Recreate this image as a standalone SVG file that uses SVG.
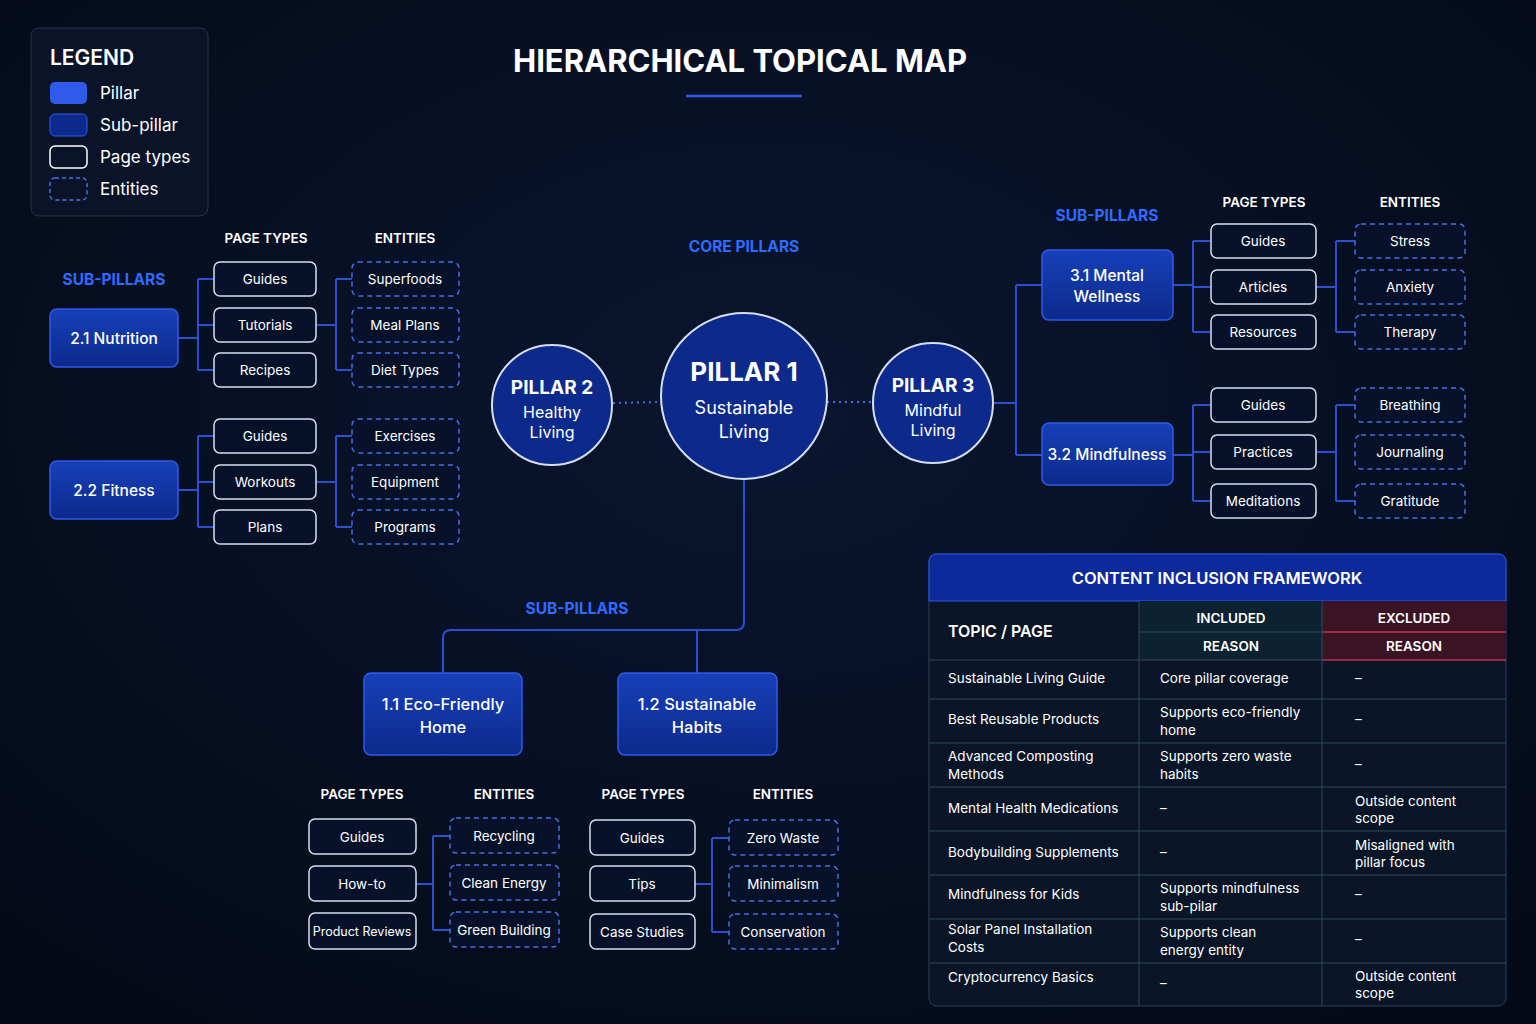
<svg xmlns="http://www.w3.org/2000/svg" width="1536" height="1024" viewBox="0 0 1536 1024">
<defs>
<radialGradient id="bg" cx="50%" cy="40%" r="70%"><stop offset="0" stop-color="#0a1630"/><stop offset="1" stop-color="#040a18"/></radialGradient>
<linearGradient id="sp" x1="0" y1="0" x2="0" y2="1"><stop offset="0" stop-color="#1740b8"/><stop offset="1" stop-color="#0c2a8c"/></linearGradient>
</defs>
<style>
text{font-family:Inter,"Noto Sans","Liberation Sans",sans-serif;fill:#fff}
.c{text-anchor:middle}
.h{font-size:13.5px;font-weight:600}
.sub{font-size:15.5px;font-weight:700;fill:#2f6bff}
.sp{fill:url(#sp);stroke:#2f5bea;stroke-width:1.5}
.pt{fill:#07122a;stroke:#d8def0;stroke-width:1.5}
.en{fill:#07122a;stroke:#4a6ee8;stroke-width:1.5;stroke-dasharray:5 4}
.t{font-size:13.5px}
.st{font-size:15.5px;font-weight:500}
.ln{fill:none;stroke:#2a4fd0;stroke-width:2}
.pc{fill:#0c2a8c;stroke:#d8def0;stroke-width:2}
.tb{font-size:13.5px}
.gl{stroke:#2c4a5c;stroke-width:1}
</style>
<rect width="1536" height="1024" fill="url(#bg)"/>
<g id="legend">
<rect x="31" y="28" width="177" height="188" rx="8" fill="#0a1328" stroke="#26324a"/>
<text x="50" y="65" font-size="21" font-weight="600">LEGEND</text>
<rect x="50" y="82" width="37" height="22" rx="5" fill="#2f5bea"/><text x="100" y="99" font-size="17">Pillar</text>
<rect x="50" y="114" width="37" height="22" rx="5" fill="#0c2a8c" stroke="#2f5bea"/><text x="100" y="131" font-size="17">Sub-pillar</text>
<rect x="50" y="146" width="37" height="22" rx="5" fill="none" stroke="#fff" stroke-width="1.5"/><text x="100" y="163" font-size="17">Page types</text>
<rect x="50" y="178" width="37" height="22" rx="5" fill="none" stroke="#4a6ee8" stroke-dasharray="4 3" stroke-width="1.5"/><text x="100" y="195" font-size="17">Entities</text>
</g>
<g id="title">
<text x="740" y="72" class="c" font-size="31" font-weight="700">HIERARCHICAL TOPICAL MAP</text>
<line x1="686" y1="96" x2="802" y2="96" stroke="#2f5bea" stroke-width="2.5"/>
<text x="744" y="252" class="c sub">CORE PILLARS</text>
<text x="114" y="285" class="c sub">SUB-PILLARS</text>
<text x="1107" y="221" class="c sub">SUB-PILLARS</text>
<text x="577" y="614" class="c sub">SUB-PILLARS</text>
<text x="266" y="243" class="c h">PAGE TYPES</text><text x="405" y="243" class="c h">ENTITIES</text>
<text x="1264" y="207" class="c h">PAGE TYPES</text><text x="1410" y="207" class="c h">ENTITIES</text>
<text x="362" y="799" class="c h">PAGE TYPES</text><text x="504" y="799" class="c h">ENTITIES</text>
<text x="643" y="799" class="c h">PAGE TYPES</text><text x="783" y="799" class="c h">ENTITIES</text>
</g>
<g id="connectors">
<line x1="613" y1="403" x2="661" y2="402" stroke="#4a6ee8" stroke-width="2" stroke-dasharray="2 4"/>
<line x1="827" y1="402" x2="873" y2="402" stroke="#4a6ee8" stroke-width="2" stroke-dasharray="2 4"/>
<path class="ln" d="M178 338H198M198 279V370M198 279H214M198 370H214M198 325H214"/>
<path class="ln" d="M316 325H336M336 279V370M336 279H352M336 370H352"/>
<path class="ln" d="M178 490H198M198 436V527M198 436H214M198 527H214M198 482H214"/>
<path class="ln" d="M316 482H336M336 436V527M336 436H352M336 527H352"/>
<path class="ln" d="M993 403H1016M1016 285V455M1016 285H1042M1016 455H1042"/>
<path class="ln" d="M1173 285H1193M1193 241V332M1193 241H1211M1193 332H1211M1193 287H1211"/>
<path class="ln" d="M1316 287H1336M1336 241V332M1336 241H1355M1336 332H1355"/>
<path class="ln" d="M1173 455H1193M1193 405V501M1193 405H1211M1193 501H1211M1193 452H1211"/>
<path class="ln" d="M1316 452H1336M1336 405V501M1336 405H1355M1336 501H1355"/>
<path class="ln" d="M744 479V622Q744 630 736 630H451Q443 630 443 638V673M697 630V673"/>
<path class="ln" d="M416 884H433M433 836V930M433 836H450M433 930H450"/>
<path class="ln" d="M695 884H712M712 838V932M712 838H729M712 932H729"/>
</g>
<g id="pillar1"><circle cx="744" cy="396" r="83" class="pc"/><text x="744" y="381" class="c" font-size="26" font-weight="700">PILLAR 1</text><text x="744" y="414" class="c" font-size="18">Sustainable</text><text x="744" y="438" class="c" font-size="18">Living</text></g>
<g id="pillar2"><circle cx="552" cy="405" r="60" class="pc"/><text x="552" y="394" class="c" font-size="19" font-weight="700">PILLAR 2</text><text x="552" y="418" class="c" font-size="16">Healthy</text><text x="552" y="438" class="c" font-size="16">Living</text></g>
<g id="pillar3"><circle cx="933" cy="403" r="60" class="pc"/><text x="933" y="392" class="c" font-size="19" font-weight="700">PILLAR 3</text><text x="933" y="416" class="c" font-size="16">Mindful</text><text x="933" y="436" class="c" font-size="16">Living</text></g>
<g id="sp21"><rect x="50" y="309" width="128" height="58" rx="7" class="sp"/><text x="114" y="344" class="c st">2.1 Nutrition</text></g>
<g id="sp22"><rect x="50" y="461" width="128" height="58" rx="7" class="sp"/><text x="114" y="496" class="c st">2.2 Fitness</text></g>
<g id="sp31"><rect x="1042" y="250" width="131" height="70" rx="7" class="sp"/><text x="1107" y="281" class="c st">3.1 Mental</text><text x="1107" y="302" class="c st">Wellness</text></g>
<g id="sp32"><rect x="1042" y="423" width="131" height="62" rx="7" class="sp"/><text x="1107" y="460" class="c st">3.2 Mindfulness</text></g>
<g id="sp11"><rect x="364" y="673" width="158" height="82" rx="7" class="sp"/><text x="443" y="710" class="c" font-size="16.5" font-weight="500">1.1 Eco-Friendly</text><text x="443" y="733" class="c" font-size="16.5" font-weight="500">Home</text></g>
<g id="sp12"><rect x="618" y="673" width="159" height="82" rx="7" class="sp"/><text x="697" y="710" class="c" font-size="16.5" font-weight="500">1.2 Sustainable</text><text x="697" y="733" class="c" font-size="16.5" font-weight="500">Habits</text></g>
<g id="pages">
<rect x="214" y="262" width="102" height="34" rx="6" class="pt"/><text x="265" y="284" class="c t">Guides</text>
<rect x="214" y="308" width="102" height="34" rx="6" class="pt"/><text x="265" y="330" class="c t">Tutorials</text>
<rect x="214" y="353" width="102" height="34" rx="6" class="pt"/><text x="265" y="375" class="c t">Recipes</text>
<rect x="214" y="419" width="102" height="34" rx="6" class="pt"/><text x="265" y="441" class="c t">Guides</text>
<rect x="214" y="465" width="102" height="34" rx="6" class="pt"/><text x="265" y="487" class="c t">Workouts</text>
<rect x="214" y="510" width="102" height="34" rx="6" class="pt"/><text x="265" y="532" class="c t">Plans</text>
<rect x="1211" y="224" width="105" height="34" rx="6" class="pt"/><text x="1263" y="246" class="c t">Guides</text>
<rect x="1211" y="270" width="105" height="34" rx="6" class="pt"/><text x="1263" y="292" class="c t">Articles</text>
<rect x="1211" y="315" width="105" height="34" rx="6" class="pt"/><text x="1263" y="337" class="c t">Resources</text>
<rect x="1211" y="388" width="105" height="34" rx="6" class="pt"/><text x="1263" y="410" class="c t">Guides</text>
<rect x="1211" y="435" width="105" height="34" rx="6" class="pt"/><text x="1263" y="457" class="c t">Practices</text>
<rect x="1211" y="484" width="105" height="34" rx="6" class="pt"/><text x="1263" y="506" class="c t">Meditations</text>
<rect x="309" y="819" width="107" height="35" rx="6" class="pt"/><text x="362" y="842" class="c t">Guides</text>
<rect x="309" y="866" width="107" height="35" rx="6" class="pt"/><text x="362" y="889" class="c t">How-to</text>
<rect x="309" y="913" width="107" height="36" rx="6" class="pt"/><text x="362" y="936" class="c" font-size="12.5">Product Reviews</text>
<rect x="590" y="820" width="105" height="35" rx="6" class="pt"/><text x="642" y="843" class="c t">Guides</text>
<rect x="590" y="866" width="105" height="35" rx="6" class="pt"/><text x="642" y="889" class="c t">Tips</text>
<rect x="590" y="914" width="105" height="35" rx="6" class="pt"/><text x="642" y="937" class="c t">Case Studies</text>
</g>
<g id="entities">
<rect x="352" y="262" width="107" height="34" rx="6" class="en"/><text x="405" y="284" class="c t">Superfoods</text>
<rect x="352" y="308" width="107" height="34" rx="6" class="en"/><text x="405" y="330" class="c t">Meal Plans</text>
<rect x="352" y="353" width="107" height="34" rx="6" class="en"/><text x="405" y="375" class="c t">Diet Types</text>
<rect x="352" y="419" width="107" height="34" rx="6" class="en"/><text x="405" y="441" class="c t">Exercises</text>
<rect x="352" y="465" width="107" height="34" rx="6" class="en"/><text x="405" y="487" class="c t">Equipment</text>
<rect x="352" y="510" width="107" height="34" rx="6" class="en"/><text x="405" y="532" class="c t">Programs</text>
<rect x="1355" y="224" width="110" height="34" rx="6" class="en"/><text x="1410" y="246" class="c t">Stress</text>
<rect x="1355" y="270" width="110" height="34" rx="6" class="en"/><text x="1410" y="292" class="c t">Anxiety</text>
<rect x="1355" y="315" width="110" height="34" rx="6" class="en"/><text x="1410" y="337" class="c t">Therapy</text>
<rect x="1355" y="388" width="110" height="34" rx="6" class="en"/><text x="1410" y="410" class="c t">Breathing</text>
<rect x="1355" y="435" width="110" height="34" rx="6" class="en"/><text x="1410" y="457" class="c t">Journaling</text>
<rect x="1355" y="484" width="110" height="34" rx="6" class="en"/><text x="1410" y="506" class="c t">Gratitude</text>
<rect x="450" y="818" width="109" height="35" rx="6" class="en"/><text x="504" y="841" class="c t">Recycling</text>
<rect x="450" y="865" width="109" height="35" rx="6" class="en"/><text x="504" y="888" class="c t">Clean Energy</text>
<rect x="450" y="912" width="109" height="35" rx="6" class="en"/><text x="504" y="935" class="c t">Green Building</text>
<rect x="729" y="820" width="109" height="35" rx="6" class="en"/><text x="783" y="843" class="c t">Zero Waste</text>
<rect x="729" y="866" width="109" height="35" rx="6" class="en"/><text x="783" y="889" class="c t">Minimalism</text>
<rect x="729" y="914" width="109" height="35" rx="6" class="en"/><text x="783" y="937" class="c t">Conservation</text>
</g>
<g id="table">
<rect x="929" y="554" width="577" height="452" rx="8" fill="#0a1527" stroke="#2c3e60"/>
<path d="M929 601V562Q929 554 937 554H1498Q1506 554 1506 562V601Z" fill="#0d2a9a" stroke="#2f5bea"/>
<rect x="1139" y="601" width="183" height="59" fill="#0c2230"/>
<rect x="1322" y="601" width="184" height="59" fill="#3a1424"/>
<line x1="1322" y1="632" x2="1506" y2="632" stroke="#c0304a" stroke-width="1.5"/>
<line x1="1322" y1="660" x2="1506" y2="660" stroke="#c0304a" stroke-width="1.5"/>
<line x1="1139" y1="632" x2="1322" y2="632" class="gl"/>
<g class="gl">
<line x1="1139" y1="601" x2="1139" y2="1006"/><line x1="1322" y1="601" x2="1322" y2="1006"/>
<line x1="929" y1="660" x2="1322" y2="660"/>
<line x1="929" y1="699" x2="1506" y2="699"/><line x1="929" y1="743" x2="1506" y2="743"/>
<line x1="929" y1="787" x2="1506" y2="787"/><line x1="929" y1="831" x2="1506" y2="831"/>
<line x1="929" y1="875" x2="1506" y2="875"/><line x1="929" y1="919" x2="1506" y2="919"/>
<line x1="929" y1="963" x2="1506" y2="963"/>
</g>
<text x="1217" y="584" class="c" font-size="16.5" font-weight="600">CONTENT INCLUSION FRAMEWORK</text>
<text x="948" y="637" font-size="16" font-weight="600">TOPIC / PAGE</text>
<text x="1231" y="623" class="c h">INCLUDED</text><text x="1231" y="651" class="c h">REASON</text>
<text x="1414" y="623" class="c h">EXCLUDED</text><text x="1414" y="651" class="c h">REASON</text>
<g>
<text x="948" y="683" class="tb">Sustainable Living Guide</text><text x="1160" y="683" class="tb">Core pillar coverage</text><text x="1355" y="683" class="tb">–</text>
<text x="948" y="724" class="tb">Best Reusable Products</text><text x="1160" y="717" class="tb">Supports eco-friendly</text><text x="1160" y="735" class="tb">home</text><text x="1355" y="724" class="tb">–</text>
<text x="948" y="761" class="tb">Advanced Composting</text><text x="948" y="779" class="tb">Methods</text><text x="1160" y="761" class="tb">Supports zero waste</text><text x="1160" y="779" class="tb">habits</text><text x="1355" y="769" class="tb">–</text>
<text x="948" y="813" class="tb">Mental Health Medications</text><text x="1160" y="813" class="tb">–</text><text x="1355" y="806" class="tb">Outside content</text><text x="1355" y="823" class="tb">scope</text>
<text x="948" y="857" class="tb">Bodybuilding Supplements</text><text x="1160" y="857" class="tb">–</text><text x="1355" y="850" class="tb">Misaligned with</text><text x="1355" y="867" class="tb">pillar focus</text>
<text x="948" y="899" class="tb">Mindfulness for Kids</text><text x="1160" y="893" class="tb">Supports mindfulness</text><text x="1160" y="911" class="tb">sub-pilar</text><text x="1355" y="899" class="tb">–</text>
<text x="948" y="934" class="tb">Solar Panel Installation</text><text x="948" y="952" class="tb">Costs</text><text x="1160" y="937" class="tb">Supports clean</text><text x="1160" y="955" class="tb">energy entity</text><text x="1355" y="944" class="tb">–</text>
<text x="948" y="982" class="tb">Cryptocurrency Basics</text><text x="1160" y="988" class="tb">–</text><text x="1355" y="981" class="tb">Outside content</text><text x="1355" y="998" class="tb">scope</text>
</g>
</g>
</svg>
